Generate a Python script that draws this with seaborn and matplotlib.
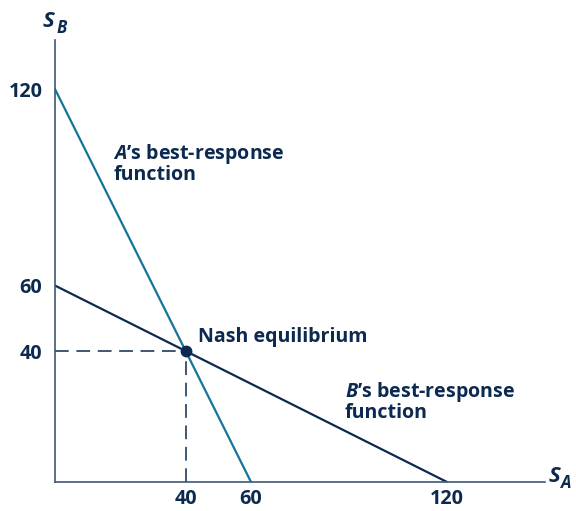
import matplotlib
matplotlib.use("Agg")
import matplotlib.pyplot as plt
import pandas as pd
import seaborn as sns

# best-response functions (endpoints)
a_resp_sa = [0, 60]
a_resp_sb = [120, 0]
b_resp_sa = [0, 120]
b_resp_sb = [60, 0]
nash = (40, 40)

x_ticks = [40, 60, 120]
y_ticks = [40, 60, 120]

BLUE = "#17729a"
NAVY = "#0c2a4f"
AXIS = "#3b5877"

sns.set_style("white")
plt.rcParams["font.family"] = ["Open Sans", "DejaVu Sans"]
plt.rcParams["mathtext.fontset"] = "custom"
plt.rcParams["mathtext.it"] = "Open Sans:italic:bold"
plt.rcParams["mathtext.rm"] = "Open Sans:bold"

df = pd.concat([
    pd.DataFrame({"sa": a_resp_sa, "sb": a_resp_sb, "who": "A"}),
    pd.DataFrame({"sa": b_resp_sa, "sb": b_resp_sb, "who": "B"}),
])

fig = plt.figure(figsize=(5.76, 5.11), dpi=100)
ax = fig.add_axes([55 / 576, 29 / 511, 490 / 576, 442 / 511])

sns.lineplot(data=df, x="sa", y="sb", hue="who", palette={"A": BLUE, "B": NAVY},
             linewidth=1.6, legend=False, ax=ax, sort=False)

# dashed guides to the equilibrium
ax.plot([0, nash[0]], [nash[1], nash[1]], color=NAVY, lw=1.1, dashes=(9, 5))
ax.plot([nash[0], nash[0]], [0, nash[1]], color=NAVY, lw=1.1, dashes=(9, 5))
ax.plot([nash[0]], [nash[1]], "o", color=NAVY, markersize=7.5, zorder=5)

ax.set_xlim(0, 150)
ax.set_ylim(0, 135)
ax.set_xlabel("")
ax.set_ylabel("")
ax.set_xticks(x_ticks)
ax.set_yticks(y_ticks)
ax.tick_params(length=0, labelsize=14.2, labelcolor=NAVY)
ax.tick_params(axis="x", pad=5)
ax.tick_params(axis="y", pad=9)
for lab in ax.get_xticklabels() + ax.get_yticklabels():
    lab.set_fontweight("bold")

for side in ["top", "right"]:
    ax.spines[side].set_visible(False)
for side in ["left", "bottom"]:
    ax.spines[side].set_color(AXIS)
    ax.spines[side].set_linewidth(1.2)

txt = dict(color=NAVY, fontsize=14.1, fontweight="bold")
ax.text(43.7, 44.3, "Nash equilibrium", va="center", ha="left", **txt)
ax.text(17.8, 103.8, "$\\it{A}$\u2019s best-response\nfunction", va="top", ha="left",
        linespacing=0.95, **txt)
ax.text(88.7, 31.3, "$\\it{B}$\u2019s best-response\nfunction", va="top", ha="left",
        linespacing=0.95, **txt)

# axis names with subscripts
ax.text(-1.9, 140.6, "S", style="italic", ha="center", va="center",
        color=NAVY, fontsize=16, fontweight="bold")
ax.text(1.9, 138.6, "B", style="italic", ha="center", va="center",
        color=NAVY, fontsize=12, fontweight="bold")
ax.text(153.0, 1.8, "S", style="italic", ha="center", va="center",
        color=NAVY, fontsize=16, fontweight="bold", clip_on=False)
ax.text(156.6, -0.4, "A", style="italic", ha="center", va="center",
        color=NAVY, fontsize=12, fontweight="bold", clip_on=False)

fig.savefig("out.png", dpi=100)
